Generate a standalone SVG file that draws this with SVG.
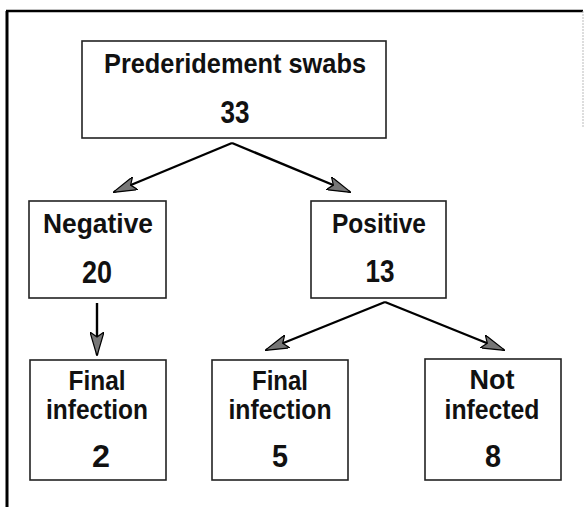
<svg xmlns="http://www.w3.org/2000/svg" width="585" height="507" viewBox="0 0 585 507">
<style>
.box{fill:#fff;stroke:#222;stroke-width:1.6}
.t{font-family:"Liberation Sans",Arial,sans-serif;font-weight:bold;font-size:28px;fill:#111;text-anchor:middle}
.n{font-family:"Liberation Sans",Arial,sans-serif;font-weight:bold;font-size:32px;fill:#111;text-anchor:middle}
.c{stroke:#000;stroke-width:2.4;fill:none;marker-end:url(#ah)}
</style>
<defs>
<marker id="ah" viewBox="0 0 24 14" refX="23" refY="7" markerWidth="24" markerHeight="14" markerUnits="userSpaceOnUse" orient="auto">
<path d="M0,0 L24,7 L0,14 L5,7 Z" fill="#777" stroke="#000" stroke-width="1.2" stroke-linejoin="miter"/>
</marker>
</defs>
<rect width="585" height="507" fill="#fff"/>
<g id="frame">
<line x1="7" y1="11" x2="7" y2="507" stroke="#000" stroke-width="3"/>
<line x1="6" y1="11" x2="583" y2="11" stroke="#000" stroke-width="2.5"/>
<line x1="583" y1="11" x2="583" y2="128" stroke="#bbb" stroke-width="1" stroke-dasharray="2,1"/>
</g>
<g id="connectors">
<line class="c" x1="232" y1="143" x2="114" y2="192"/>
<line class="c" x1="232" y1="143" x2="350" y2="192"/>
<line class="c" x1="97" y1="303" x2="97" y2="355"/>
<line class="c" x1="385" y1="302" x2="266" y2="350"/>
<line class="c" x1="385" y1="302" x2="504" y2="350"/>
</g>
<g id="swabs">
<rect class="box" x="82" y="41" width="304" height="97"/>
<text class="t" x="235" y="73" textLength="262" lengthAdjust="spacingAndGlyphs">Prederidement swabs</text>
<text class="n" x="235" y="123" textLength="29" lengthAdjust="spacingAndGlyphs">33</text>
</g>
<g id="negative">
<rect class="box" x="29" y="201" width="137" height="97"/>
<text class="t" x="98" y="233" textLength="110" lengthAdjust="spacingAndGlyphs">Negative</text>
<text class="n" x="97" y="283" textLength="30" lengthAdjust="spacingAndGlyphs">20</text>
</g>
<g id="positive">
<rect class="box" x="311" y="201" width="135" height="97"/>
<text class="t" x="379" y="233" textLength="94" lengthAdjust="spacingAndGlyphs">Positive</text>
<text class="n" x="380" y="282" textLength="29" lengthAdjust="spacingAndGlyphs">13</text>
</g>
<g id="final-infection-neg">
<rect class="box" x="30" y="360" width="136" height="120"/>
<text class="t" x="97" y="390" textLength="57" lengthAdjust="spacingAndGlyphs">Final</text>
<text class="t" x="97" y="419" textLength="102" lengthAdjust="spacingAndGlyphs">infection</text>
<text class="n" x="101" y="467" textLength="18" lengthAdjust="spacingAndGlyphs">2</text>
</g>
<g id="final-infection-pos">
<rect class="box" x="212" y="360" width="136" height="120"/>
<text class="t" x="280" y="390" textLength="56" lengthAdjust="spacingAndGlyphs">Final</text>
<text class="t" x="280" y="419" textLength="103" lengthAdjust="spacingAndGlyphs">infection</text>
<text class="n" x="280" y="467" textLength="16" lengthAdjust="spacingAndGlyphs">5</text>
</g>
<g id="not-infected">
<rect class="box" x="425" y="359" width="136" height="121"/>
<text class="t" x="492" y="389" textLength="45" lengthAdjust="spacingAndGlyphs">Not</text>
<text class="t" x="492" y="419" textLength="95" lengthAdjust="spacingAndGlyphs">infected</text>
<text class="n" x="493" y="467" textLength="16" lengthAdjust="spacingAndGlyphs">8</text>
</g>
</svg>
